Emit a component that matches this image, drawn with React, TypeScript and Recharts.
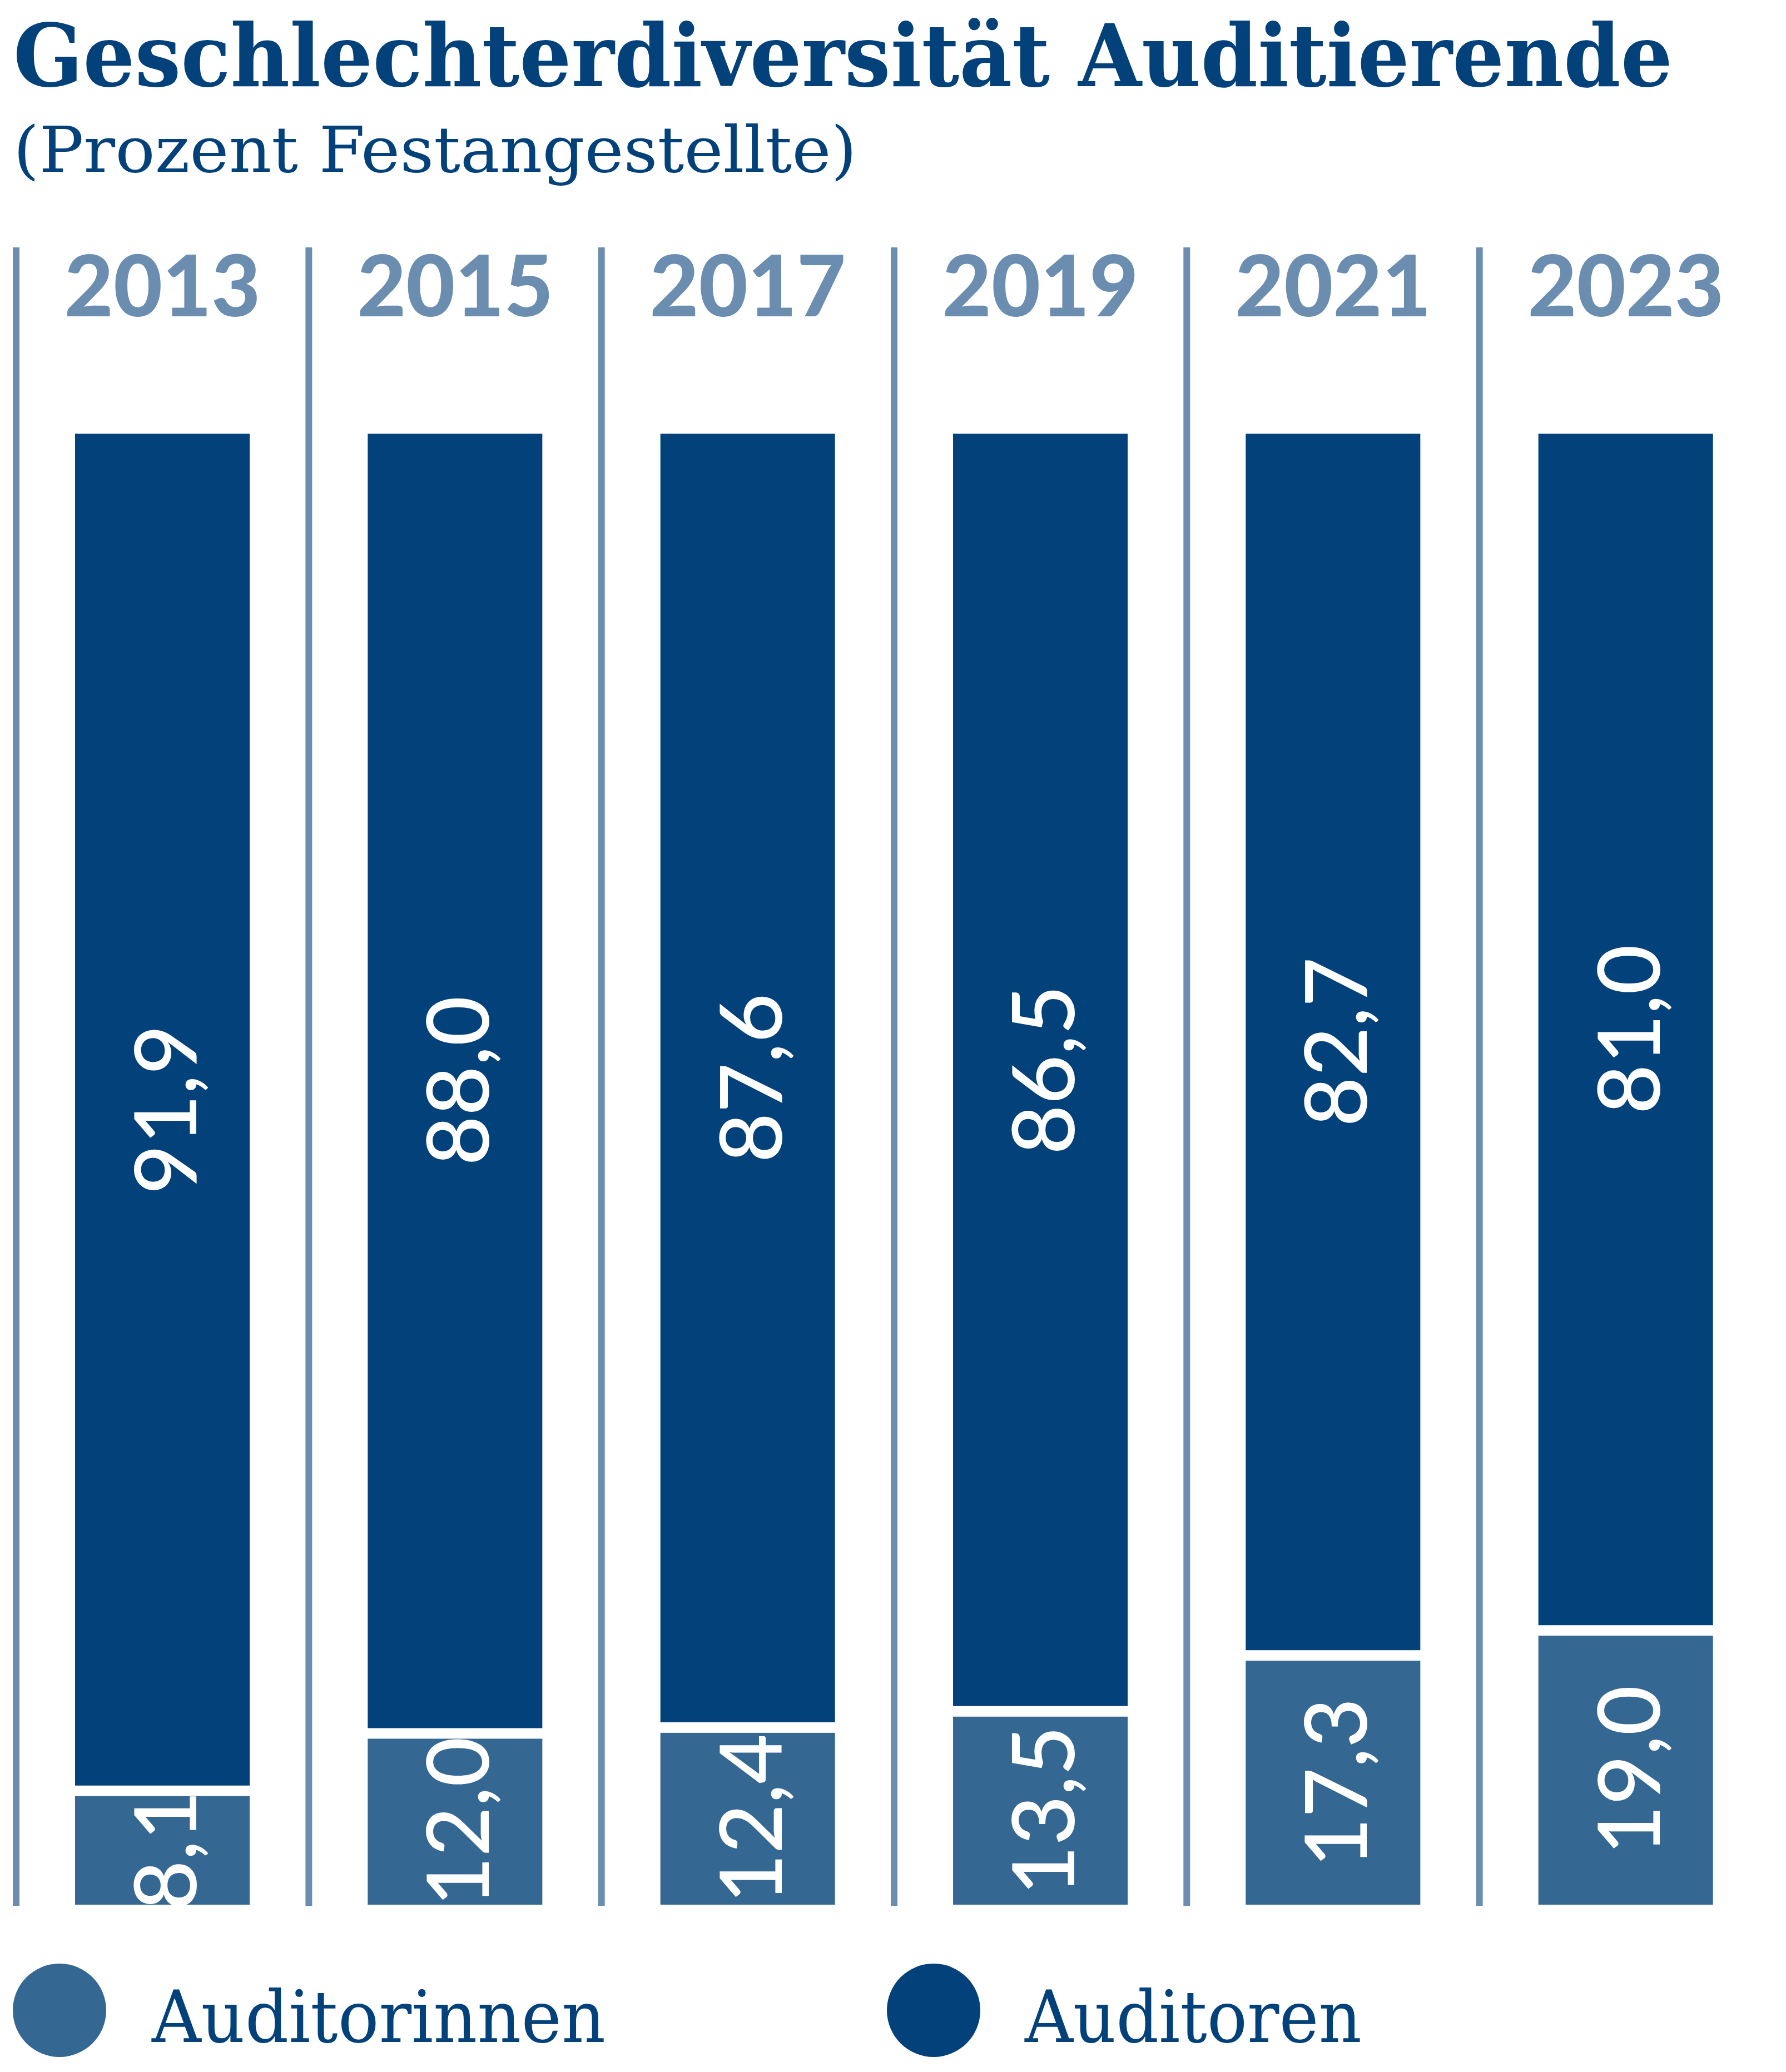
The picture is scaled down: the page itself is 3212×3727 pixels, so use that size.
import React from "react";
import { Bar, BarChart, LabelList, Legend, XAxis, YAxis } from "recharts";

const years = ["2013", "2015", "2017", "2019", "2021", "2023"];
const auditorinnen = [8.1, 12.0, 12.4, 13.5, 17.3, 19.0];
const auditoren = [91.9, 88.0, 87.6, 86.5, 82.7, 81.0];
const seriesOrder = ["auditorinnen", "auditoren"];

const W = 3212;
const H = 3727;
const PLOT_TOP = 780;
const PLOT_BOTTOM = 3426;
const LEGEND_H = 247;
const margin = { top: PLOT_TOP - 30, right: 25, bottom: H - PLOT_BOTTOM - LEGEND_H, left: 29 };
const BAND = (W - margin.left - margin.right) / years.length;
const GAP = 19;

const dark = "#03417a";
const light = "#346792";
const rule = "#6a8db0";
const serif = "'DejaVu Serif Condensed', 'DejaVu Serif', serif";
const sans = "Lato, 'Open Sans', sans-serif";

const data = years.map((year, i) => ({
  year,
  auditorinnen: auditorinnen[i],
  auditoren: auditoren[i],
}));

const fmt = (v: number) => v.toFixed(1).replace(".", ",");

function YearTick(props: any) {
  const { x, payload } = props;
  const left = x - BAND / 2;
  return (
    <g>
      <line x1={left} x2={left} y1={445} y2={PLOT_BOTTOM + 2} stroke={rule} strokeWidth={12} />
      <text x={x} y={569} textAnchor="middle" fill={rule} fontFamily={sans} fontWeight={900} fontSize={152}>
        {payload.value}
      </text>
    </g>
  );
}

// bottom segment leaves a white gap under the dark one
function LowerShape(props: any) {
  const { x, y, width, height, fill } = props;
  return <rect x={x} y={y + GAP} width={width} height={Math.max(0, height - GAP)} fill={fill} />;
}

function ValueLabel(props: any, top: number) {
  const { x, y, width, height, value } = props;
  const cx = x + width / 2;
  const cy = y + top + (height - top) / 2;
  return (
    <text
      x={0}
      y={61}
      transform={`translate(${cx},${cy}) rotate(-90)`}
      textAnchor="middle"
      fill="#fff"
      fontFamily={sans}
      fontWeight={500}
      fontSize={155}
    >
      {fmt(Number(value))}
    </text>
  );
}

function LegendBox(props: any) {
  const items = [...(props.payload || [])].sort(
    (a: any, b: any) => seriesOrder.indexOf(a.dataKey) - seriesOrder.indexOf(b.dataKey)
  );
  const spots = [
    { cx: 107, tx: 273, len: 816 },
    { cx: 1679, tx: 1843, len: 606 },
  ];
  return (
    <svg width={W} height={LEGEND_H} style={{ display: "block" }}>
      {items.map((item: any, i: number) => (
        <g key={item.value}>
          <circle cx={spots[i].cx} cy={136} r={84} fill={item.color} />
          <text
            x={spots[i].tx}
            y={193}
            fill={dark}
            fontFamily={serif}
            fontSize={130}
            textLength={spots[i].len}
            lengthAdjust="spacingAndGlyphs"
          >
            {item.value}
          </text>
        </g>
      ))}
    </svg>
  );
}

export default function App() {
  return (
    <div style={{ position: "absolute", left: 0, top: 0, width: W, height: H, background: "#fff" }}>
      <svg width={W} height={400} style={{ position: "absolute", left: 0, top: 0 }}>
        <text
          x={24}
          y={155}
          fill={dark}
          fontFamily={serif}
          fontWeight={700}
          fontSize={156}
          textLength={2984}
          lengthAdjust="spacingAndGlyphs"
        >
          Geschlechterdiversität Auditierende
        </text>
        <text
          x={24}
          y={309}
          fill={dark}
          fontFamily={serif}
          fontSize={114}
          textLength={1517}
          lengthAdjust="spacingAndGlyphs"
        >
          (Prozent Festangestellte)
        </text>
      </svg>
      <div style={{ position: "absolute", left: 0, top: 0 }}>
        <BarChart width={W} height={H} data={data} margin={margin}>
          <XAxis
            dataKey="year"
            orientation="top"
            height={30}
            axisLine={false}
            tickLine={false}
            interval={0}
            tick={<YearTick />}
          />
          <YAxis hide domain={[0, 100]} />
          <Legend
            content={<LegendBox />}
            verticalAlign="bottom"
            wrapperStyle={{ position: "absolute", left: 0, top: H - LEGEND_H, width: W, height: LEGEND_H }}
          />
          <Bar
            dataKey="auditorinnen"
            name="Auditorinnen"
            stackId="a"
            fill={light}
            barSize={314}
            shape={<LowerShape />}
            isAnimationActive={false}
          >
            <LabelList dataKey="auditorinnen" content={(p: any) => ValueLabel(p, GAP)} />
          </Bar>
          <Bar
            dataKey="auditoren"
            name="Auditoren"
            stackId="a"
            fill={dark}
            barSize={314}
            isAnimationActive={false}
          >
            <LabelList dataKey="auditoren" content={(p: any) => ValueLabel(p, 0)} />
          </Bar>
        </BarChart>
      </div>
    </div>
  );
}
